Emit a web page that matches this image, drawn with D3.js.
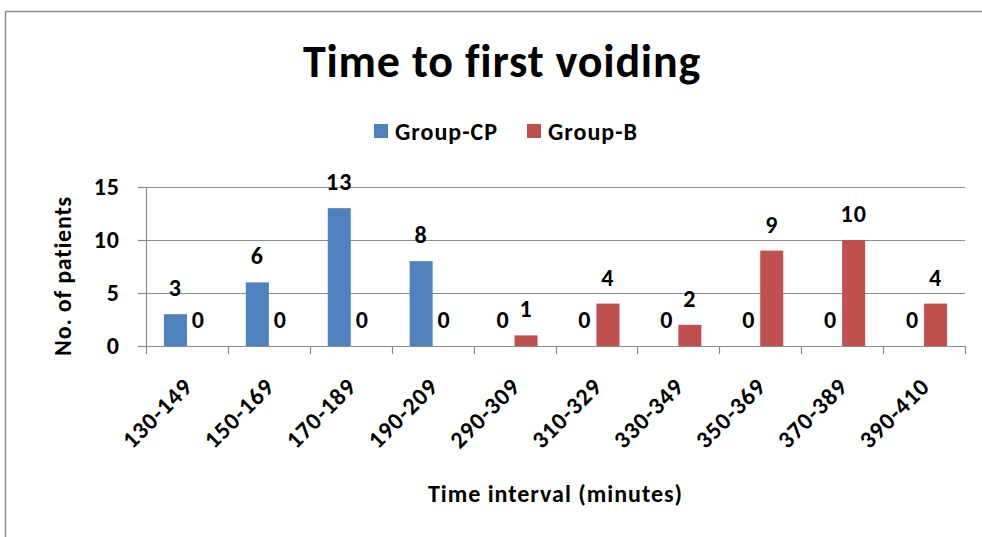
<!DOCTYPE html>
<html>
<head>
<meta charset="utf-8">
<script src="https://cdn.jsdelivr.net/npm/d3@7/dist/d3.min.js"></script>
<style>
  html, body { margin: 0; padding: 0; background: #fff; }
  svg { display: block; }
  text { font-family: Carlito, Lato, "Open Sans", sans-serif; font-weight: bold; fill: #000; }
</style>
</head>
<body>
<svg id="chart" width="982" height="537"></svg>
<script>
const categories = ["130-149", "150-169", "170-189", "190-209", "290-309", "310-329", "330-349", "350-369", "370-389", "390-410"];
const seriesNames = ["Group-CP", "Group-B"];
const groupCP = [3, 6, 13, 8, 0, 0, 0, 0, 0, 0];
const groupB = [0, 0, 0, 0, 1, 4, 2, 9, 10, 4];
const yTicks = [0, 5, 10, 15];
const colors = ["#4F81BD", "#C0504D"];
const titleText = "Time to first voiding";
const xTitle = "Time interval (minutes)";
const yTitle = "No. of patients";

const seriesValues = [groupCP, groupB];
const svg = d3.select("#chart");
const FONT = "Carlito, Lato, sans-serif";

// outer frame
svg.append("rect").attr("x", 5.5).attr("y", 11.5).attr("width", 1200).attr("height", 800)
  .attr("fill", "none").attr("stroke", "#8c8c8c").attr("stroke-width", 1.5);

const pLeft = 146, pRight = 965, pTop = 187, pBottom = 346;
const x = d3.scaleBand().domain(categories).range([pLeft, pRight]).paddingInner(0).paddingOuter(0);
const xs = d3.scaleBand().domain(seriesNames).range([0, x.bandwidth()]).paddingInner(0).paddingOuter(0.78);
const y = d3.scaleLinear().domain([0, 15]).range([pBottom, pTop]);

function styleText(sel, size, ls) {
  sel.style("font-size", size + "px").style("font-family", FONT).style("font-weight", "bold")
    .style("letter-spacing", ls + "px").attr("fill", "#000");
}

// gridlines
svg.append("g").selectAll("line").data(yTicks.filter(d => d > 0)).join("line")
  .attr("x1", pLeft).attr("x2", pRight)
  .attr("y1", d => Math.round(y(d)) + 0.5).attr("y2", d => Math.round(y(d)) + 0.5)
  .attr("stroke", "#8c8c8c").attr("stroke-width", 1.2);

// y axis
const yAxis = svg.append("g").attr("transform", `translate(${pLeft},0)`)
  .call(d3.axisLeft(y).tickValues(yTicks).tickSize(8).tickPadding(18).tickFormat(d3.format("d")));
yAxis.select(".domain").attr("stroke", "#8c8c8c").attr("stroke-width", 1.2);
yAxis.selectAll(".tick line").attr("stroke", "#8c8c8c").attr("stroke-width", 1.2);
styleText(yAxis.selectAll(".tick text"), 24, 1);

// bars
const groups = svg.append("g").selectAll("g").data(categories).join("g")
  .attr("transform", d => `translate(${x(d)},0)`);
groups.selectAll("rect").data((c, i) => seriesNames.map((s, k) => ({ s, k, v: seriesValues[k][i] }))).join("rect")
  .attr("x", d => xs(d.s)).attr("width", xs.bandwidth())
  .attr("y", d => y(d.v)).attr("height", d => y(0) - y(d.v))
  .attr("fill", d => colors[d.k]);

// value labels
const vl = groups.selectAll("text").data((c, i) => seriesNames.map((s, k) => ({ s, k, v: seriesValues[k][i] }))).join("text")
  .attr("x", d => xs(d.s) + xs.bandwidth() / 2)
  .attr("y", d => y(d.v) - 18)
  .attr("text-anchor", "middle")
  .text(d => d.v);
styleText(vl, 24, 1);

// x axis
const xAxis = svg.append("g").attr("transform", `translate(0,${pBottom})`)
  .call(d3.axisBottom(x).tickSize(0).tickFormat(d => d));
xAxis.select(".domain").attr("stroke", "#8c8c8c").attr("stroke-width", 1.2);
xAxis.selectAll(".tick line").remove();
// category boundary ticks
const bounds = categories.map(c => x(c)).concat([pRight]);
svg.append("g").selectAll("line").data(bounds).join("line")
  .attr("x1", d => Math.round(d) + 0.5).attr("x2", d => Math.round(d) + 0.5)
  .attr("y1", pBottom).attr("y2", pBottom + 8)
  .attr("stroke", "#8c8c8c").attr("stroke-width", 1.2);
const xt = xAxis.selectAll(".tick text")
  .attr("text-anchor", "end")
  .attr("dy", null).attr("y", null)
  .attr("transform", "translate(7,42) rotate(-45)");
styleText(xt, 24, 1);

// title
styleText(svg.append("text").attr("x", 502).attr("y", 77).attr("text-anchor", "middle").text(titleText), 46, 0.8);

// legend
const legend = svg.append("g");
const legendX = [374, 527];
seriesNames.forEach((s, k) => {
  legend.append("rect").attr("x", legendX[k]).attr("y", 124).attr("width", 14).attr("height", 14).attr("fill", colors[k]);
  styleText(legend.append("text").attr("x", legendX[k] + 21).attr("y", 140).text(s), 24, 1);
});

// axis titles
styleText(svg.append("text").attr("x", (pLeft + pRight) / 2).attr("y", 502).attr("text-anchor", "middle").text(xTitle), 24, 1);
styleText(svg.append("text").attr("transform", "translate(71,276) rotate(-90)").attr("text-anchor", "middle").text(yTitle), 24, 0.8);
</script>
</body>
</html>
